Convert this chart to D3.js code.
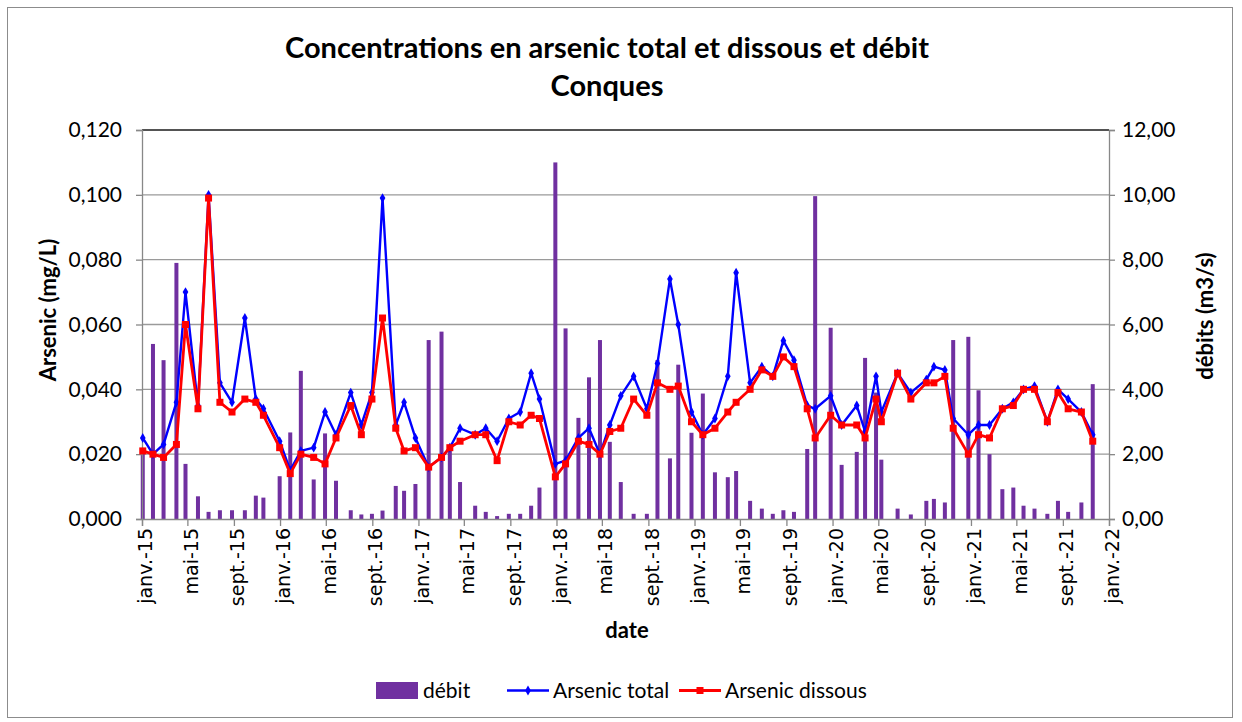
<!DOCTYPE html>
<html>
<head>
<meta charset="utf-8">
<script src="https://cdn.jsdelivr.net/npm/d3@7"></script>
<style>
  html, body { margin: 0; padding: 0; background: #fff; }
  svg { display: block; }
</style>
</head>
<body>
<svg id="chart" width="1242" height="722"></svg>
<script>
// Sampling dates (Conques station)
const dates = [
  "2015-01-03","2015-01-30","2015-02-27","2015-04-02","2015-04-26","2015-05-29","2015-06-26","2015-07-26","2015-08-27","2015-09-30","2015-10-29","2015-11-18","2015-12-31",
  "2016-01-28","2016-02-25","2016-03-30","2016-04-29","2016-05-28","2016-07-06","2016-08-03","2016-08-31","2016-09-28","2016-11-02","2016-11-24","2016-12-24",
  "2017-01-28","2017-03-03","2017-03-25","2017-04-21","2017-05-31","2017-06-28","2017-07-28","2017-08-28","2017-09-27","2017-10-26","2017-11-17","2017-12-29",
  "2018-01-25","2018-02-28","2018-03-28","2018-04-26","2018-05-22","2018-06-20","2018-07-24","2018-08-28","2018-09-25","2018-10-28","2018-11-19","2018-12-24",
  "2019-01-23","2019-02-24","2019-03-30","2019-04-21","2019-05-28","2019-06-28","2019-07-27","2019-08-24","2019-09-21","2019-10-26","2019-11-16","2019-12-27",
  "2020-01-25","2020-03-05","2020-03-27","2020-04-25","2020-05-09","2020-06-21","2020-07-26","2020-09-05","2020-09-25","2020-10-24","2020-11-15","2020-12-25",
  "2021-01-21","2021-02-19","2021-03-25","2021-04-23","2021-05-20","2021-06-18","2021-07-22","2021-08-19","2021-09-15","2021-10-20","2021-11-19"
];

// Arsenic total (mg/L)
const arsenicTotal = [
  0.025,0.020,0.023,0.036,0.070,0.035,0.100,0.042,0.036,0.062,0.037,0.034,0.024,
  0.015,0.021,0.022,0.033,0.026,0.039,0.029,0.039,0.099,0.029,0.036,0.025,
  0.016,0.019,0.022,0.028,0.026,0.028,0.024,0.031,0.033,0.045,0.037,0.017,
  0.018,0.025,0.028,0.020,0.029,0.038,0.044,0.034,0.048,0.074,0.060,0.033,
  0.026,0.031,0.044,0.076,0.042,0.047,0.044,0.055,0.049,0.035,0.034,0.038,
  0.029,0.035,0.027,0.044,0.033,0.045,0.039,0.043,0.047,0.046,0.031,0.026,
  0.029,0.029,0.034,0.036,0.040,0.041,0.030,0.040,0.037,0.033,0.026
];

// Arsenic dissous (mg/L)
const arsenicDissous = [
  0.021,0.020,0.019,0.023,0.060,0.034,0.099,0.036,0.033,0.037,0.036,0.032,0.022,
  0.014,0.020,0.019,0.017,0.025,0.035,0.026,0.037,0.062,0.028,0.021,0.022,
  0.016,0.019,0.022,0.024,0.026,0.026,0.018,0.030,0.029,0.032,0.031,0.013,
  0.017,0.024,0.023,0.020,0.027,0.028,0.037,0.032,0.042,0.040,0.041,0.030,
  0.026,0.028,0.033,0.036,0.040,0.046,0.044,0.050,0.047,0.034,0.025,0.032,
  0.029,0.029,0.025,0.037,0.030,0.045,0.037,0.042,0.042,0.044,0.028,0.020,
  0.026,0.025,0.034,0.035,0.040,0.040,0.030,0.039,0.034,0.033,0.024
];

// Débit (m3/s)
const debit = [
  2.1,5.4,4.9,7.9,1.7,0.7,0.22,0.27,0.27,0.27,0.72,0.66,1.32,
  2.67,4.57,1.22,2.64,1.18,0.27,0.14,0.16,0.26,1.02,0.87,1.08,
  5.52,5.78,2.22,1.14,0.41,0.22,0.09,0.16,0.16,0.41,0.97,11.0,
  5.88,3.12,4.37,5.52,2.38,1.14,0.16,0.16,4.9,1.87,4.76,2.66,
  3.87,1.44,1.29,1.48,0.56,0.32,0.16,0.27,0.22,2.16,9.96,5.9,
  1.67,2.07,4.97,3.9,1.83,0.32,0.14,0.56,0.62,0.51,5.52,5.62,
  3.97,2.0,0.92,0.97,0.41,0.32,0.16,0.56,0.22,0.51,4.16
];

const leftTicks = [0, 0.02, 0.04, 0.06, 0.08, 0.10, 0.12];
const rightTicks = [0, 2, 4, 6, 8, 10, 12];
const monthNames = ["janv.","févr.","mars","avr.","mai","juin","juil.","août","sept.","oct.","nov.","déc."];

const parse = d3.timeParse("%Y-%m-%d");
const rows = dates.map((d, i) => ({
  date: parse(d), total: arsenicTotal[i], dissous: arsenicDissous[i], debit: debit[i]
}));

const svg = d3.select("#chart");
const W = 1242, H = 722;
const m = { left: 142, right: 1109, top: 130, bottom: 519 };

const x = d3.scaleTime()
  .domain([new Date(2015, 0, 1), new Date(2022, 0, 1)])
  .range([m.left, m.right]);
const yL = d3.scaleLinear().domain([0, 0.12]).range([m.bottom, m.top]);
const yR = d3.scaleLinear().domain([0, 12]).range([m.bottom, m.top]);

const font = "Lato, 'Open Sans', sans-serif";

// Chart frame
svg.append("rect").attr("x", 0).attr("y", 0).attr("width", W).attr("height", H).attr("fill", "#fff");
svg.append("rect").attr("x", 7.5).attr("y", 7.5).attr("width", 1225).attr("height", 710)
  .attr("fill", "none").attr("stroke", "#8c8c8c").attr("stroke-width", 1);

// Title
const title = svg.append("text").attr("x", 607).attr("text-anchor", "middle")
  .attr("font-family", font).attr("font-weight", 700).attr("font-size", 29).attr("fill", "#000");
title.append("tspan").attr("x", 607).attr("y", 58).text("Concentrations en arsenic total et dissous et débit");
title.append("tspan").attr("x", 607).attr("y", 96).text("Conques");

// Horizontal gridlines
svg.append("g").selectAll("line").data(leftTicks.slice(1, -1)).join("line")
  .attr("x1", m.left).attr("x2", m.right)
  .attr("y1", d => yL(d)).attr("y2", d => yL(d))
  .attr("stroke", "#9a9a9a").attr("stroke-width", 1.3);

// Plot area top edge
svg.append("line").attr("x1", m.left).attr("x2", m.right).attr("y1", m.top).attr("y2", m.top)
  .attr("stroke", "#1a1a1a").attr("stroke-width", 1.6);

// Débit bars
svg.append("g").selectAll("rect").data(rows).join("rect")
  .attr("x", d => x(d.date) - 2)
  .attr("width", 4)
  .attr("y", d => yR(d.debit))
  .attr("height", d => m.bottom - yR(d.debit))
  .attr("fill", "#7030A0");

// Left axis
const axL = d3.axisLeft(yL).tickValues(leftTicks).tickSize(6).tickPadding(14)
  .tickFormat(d => d3.format(".3f")(d).replace(".", ","));
const gL = svg.append("g").attr("transform", `translate(${m.left},0)`).call(axL);
gL.select(".domain").attr("stroke", "#888").attr("stroke-width", 1.3);
gL.selectAll(".tick line").attr("stroke", "#888").attr("stroke-width", 1.3);
gL.selectAll("text").attr("font-family", font).attr("font-size", 21).attr("fill", "#000");

// Right axis
const axR = d3.axisRight(yR).tickValues(rightTicks).tickSize(6).tickPadding(7)
  .tickFormat(d => d3.format(".2f")(d).replace(".", ","));
const gR = svg.append("g").attr("transform", `translate(${m.right},0)`).call(axR);
gR.select(".domain").attr("stroke", "#888").attr("stroke-width", 1.3);
gR.selectAll(".tick line").attr("stroke", "#888").attr("stroke-width", 1.3);
gR.selectAll("text").attr("font-family", font).attr("font-size", 21).attr("fill", "#000");

// Bottom axis, every 4 months
const axB = d3.axisBottom(x).ticks(d3.timeMonth.every(4)).tickSize(7)
  .tickFormat(d => monthNames[d.getMonth()] + "-" + d3.timeFormat("%y")(d));
const gB = svg.append("g").attr("transform", `translate(0,${m.bottom})`).call(axB);
gB.select(".domain").attr("stroke", "#888").attr("stroke-width", 1.3);
gB.selectAll(".tick line").attr("stroke", "#888").attr("stroke-width", 1.3);
gB.selectAll("text")
  .attr("font-family", "'DejaVu Sans', sans-serif").attr("font-size", 19).attr("fill", "#000")
  .attr("text-anchor", "end").attr("dy", "0.35em")
  .attr("transform", "translate(3,0) rotate(-90)")
  .attr("x", -9).attr("y", 0);

// Axis titles
svg.append("text").attr("transform", "translate(56,310) rotate(-90)")
  .attr("text-anchor", "middle").attr("font-family", font).attr("font-weight", 700)
  .attr("font-size", 22).text("Arsenic (mg/L)");
svg.append("text").attr("transform", "translate(1213,316) rotate(-90)")
  .attr("text-anchor", "middle").attr("font-family", font).attr("font-weight", 700)
  .attr("font-size", 22).text("débits (m3/s)");
svg.append("text").attr("x", 627).attr("y", 638)
  .attr("text-anchor", "middle").attr("font-family", font).attr("font-weight", 700)
  .attr("font-size", 22).text("date");

// Arsenic lines
const lineTotal = d3.line().x(d => x(d.date)).y(d => yL(d.total));
const lineDissous = d3.line().x(d => x(d.date)).y(d => yL(d.dissous));

svg.append("path").datum(rows).attr("d", lineTotal)
  .attr("fill", "none").attr("stroke", "#0000FF").attr("stroke-width", 2.4).attr("stroke-linejoin", "round");
svg.append("g").selectAll("path").data(rows).join("path")
  .attr("d", d3.symbol(d3.symbolDiamond, 28))
  .attr("transform", d => `translate(${x(d.date)},${yL(d.total)})`)
  .attr("fill", "#0000FF");

svg.append("path").datum(rows).attr("d", lineDissous)
  .attr("fill", "none").attr("stroke", "#FF0000").attr("stroke-width", 2.8).attr("stroke-linejoin", "round");
svg.append("g").selectAll("rect").data(rows).join("rect")
  .attr("x", d => x(d.date) - 3.5).attr("y", d => yL(d.dissous) - 3.5)
  .attr("width", 7).attr("height", 7).attr("fill", "#FF0000");

// Legend
const lg = svg.append("g").attr("font-family", font).attr("font-size", 21);
lg.append("rect").attr("x", 376).attr("y", 682).attr("width", 42).attr("height", 17).attr("fill", "#7030A0");
lg.append("text").attr("x", 423).attr("y", 698).text("débit");
lg.append("line").attr("x1", 507).attr("x2", 549).attr("y1", 690.5).attr("y2", 690.5)
  .attr("stroke", "#0000FF").attr("stroke-width", 2.4);
lg.append("path").attr("d", d3.symbol(d3.symbolDiamond, 28)).attr("transform", "translate(528,690.5)").attr("fill", "#0000FF");
lg.append("text").attr("x", 553).attr("y", 698).text("Arsenic total");
lg.append("line").attr("x1", 679).attr("x2", 721).attr("y1", 690.5).attr("y2", 690.5)
  .attr("stroke", "#FF0000").attr("stroke-width", 2.8);
lg.append("rect").attr("x", 696.5).attr("y", 687).attr("width", 7).attr("height", 7).attr("fill", "#FF0000");
lg.append("text").attr("x", 725).attr("y", 698).text("Arsenic dissous");
</script>
</body>
</html>
